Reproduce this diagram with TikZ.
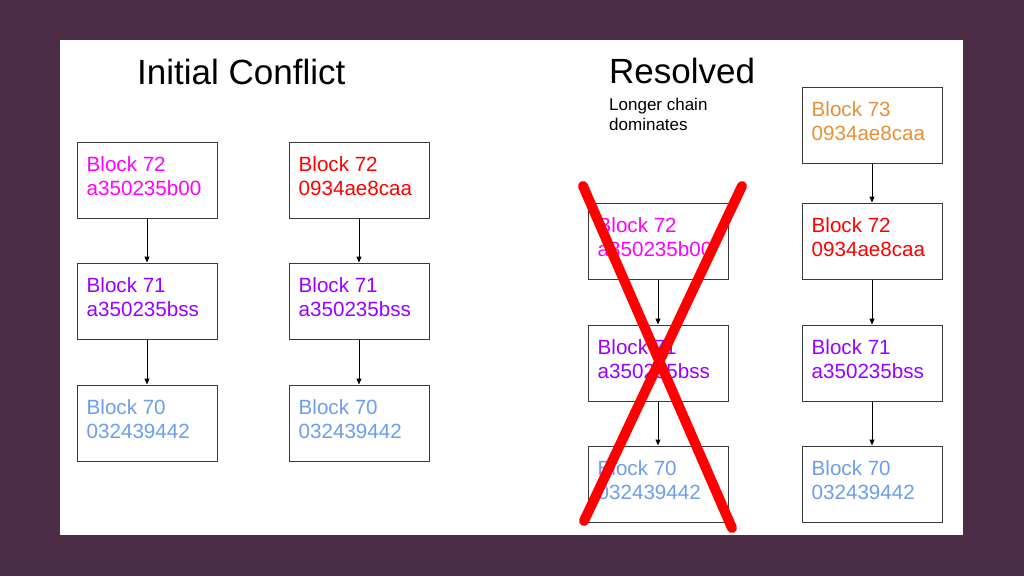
\documentclass[tikz,border=0pt]{standalone}
\usepackage{fontspec}
\setmainfont{Liberation Sans}
\usetikzlibrary{arrows.meta}
\definecolor{bgpurple}{HTML}{4B2D46}
\definecolor{cmag}{HTML}{FF00FF}
\definecolor{cred}{HTML}{FF0000}
\definecolor{cpurp}{HTML}{9900FF}
\definecolor{cblue}{HTML}{6D9EEB}
\definecolor{corange}{HTML}{E69138}
\definecolor{cline}{HTML}{3A3A3A}
\tikzset{
  blockbox/.style={draw=cline, line width=1pt, rectangle, minimum width=140pt, minimum height=76pt, inner sep=0pt},
  blocktxt/.style={anchor=west, align=left, inner sep=0pt, font=\fontsize{20.6}{23.5}\selectfont},
  chainarrow/.style={draw=black, line width=1pt, -{Triangle[length=6pt,width=5pt]}},
  crossline/.style={draw=cred, line width=10pt, line cap=round},
  titletxt/.style={anchor=base west, inner sep=0pt, font=\fontsize{35}{40}\selectfont},
  subtxt/.style={anchor=base west, inner sep=0pt, align=left, font=\fontsize{17}{20}\selectfont}
}
\begin{document}
\begin{tikzpicture}[x=1pt,y=-1pt]
\useasboundingbox (0,0) rectangle (1024,576);
\fill[bgpurple] (0,0) rectangle (1024,576);
\fill[white] (60,40) rectangle (963,535);

% titles
\node[titletxt] (t1) at (137,84) {Initial Conflict};
\node[titletxt] (t2) at (609,83) {Resolved};
\node[subtxt] (s1) at (609,110) {Longer chain};
\node[subtxt] (s2) at (609,130) {dominates};

% column A
\node[blockbox] (a72) at (147,180) {};
\node[blockbox] (a71) at (147,301) {};
\node[blockbox] (a70) at (147,423) {};
\node[blocktxt, text=cmag] (a72t) at ([xshift=10pt,yshift=4pt]a72.west) {Block 72\\a350235b00};
\node[blocktxt, text=cpurp] (a71t) at ([xshift=10pt,yshift=4pt]a71.west) {Block 71\\a350235bss};
\node[blocktxt, text=cblue] (a70t) at ([xshift=10pt,yshift=4pt]a70.west) {Block 70\\032439442};
\draw[chainarrow] (a72.south) -- (a71.north);
\draw[chainarrow] (a71.south) -- (a70.north);

% column B
\node[blockbox] (b72) at (359,180) {};
\node[blockbox] (b71) at (359,301) {};
\node[blockbox] (b70) at (359,423) {};
\node[blocktxt, text=cred] (b72t) at ([xshift=10pt,yshift=4pt]b72.west) {Block 72\\0934ae8caa};
\node[blocktxt, text=cpurp] (b71t) at ([xshift=10pt,yshift=4pt]b71.west) {Block 71\\a350235bss};
\node[blocktxt, text=cblue] (b70t) at ([xshift=10pt,yshift=4pt]b70.west) {Block 70\\032439442};
\draw[chainarrow] (b72.south) -- (b71.north);
\draw[chainarrow] (b71.south) -- (b70.north);

% column C (crossed out)
\node[blockbox] (c72) at (658,241) {};
\node[blockbox] (c71) at (658,363) {};
\node[blockbox] (c70) at (658,484) {};
\node[blocktxt, text=cmag] (c72t) at ([xshift=10pt,yshift=4pt]c72.west) {Block 72\\a350235b00};
\node[blocktxt, text=cpurp] (c71t) at ([xshift=10pt,yshift=4pt]c71.west) {Block 71\\a350235bss};
\node[blocktxt, text=cblue] (c70t) at ([xshift=10pt,yshift=4pt]c70.west) {Block 70\\032439442};
\draw[chainarrow] (c72.south) -- (c71.north);
\draw[chainarrow] (c71.south) -- (c70.north);

% column D
\node[blockbox] (d73) at (872,125) {};
\node[blockbox] (d72) at (872,241) {};
\node[blockbox] (d71) at (872,363) {};
\node[blockbox] (d70) at (872,484) {};
\node[blocktxt, text=corange] (d73t) at ([xshift=10pt,yshift=4pt]d73.west) {Block 73\\0934ae8caa};
\node[blocktxt, text=cred] (d72t) at ([xshift=10pt,yshift=4pt]d72.west) {Block 72\\0934ae8caa};
\node[blocktxt, text=cpurp] (d71t) at ([xshift=10pt,yshift=4pt]d71.west) {Block 71\\a350235bss};
\node[blocktxt, text=cblue] (d70t) at ([xshift=10pt,yshift=4pt]d70.west) {Block 70\\032439442};
\draw[chainarrow] (d73.south) -- (d72.north);
\draw[chainarrow] (d72.south) -- (d71.north);
\draw[chainarrow] (d71.south) -- (d70.north);

% red cross
\draw[crossline] (583,186) -- (732,528);
\draw[crossline] (742,186) -- (584,521);
\end{tikzpicture}
\end{document}
